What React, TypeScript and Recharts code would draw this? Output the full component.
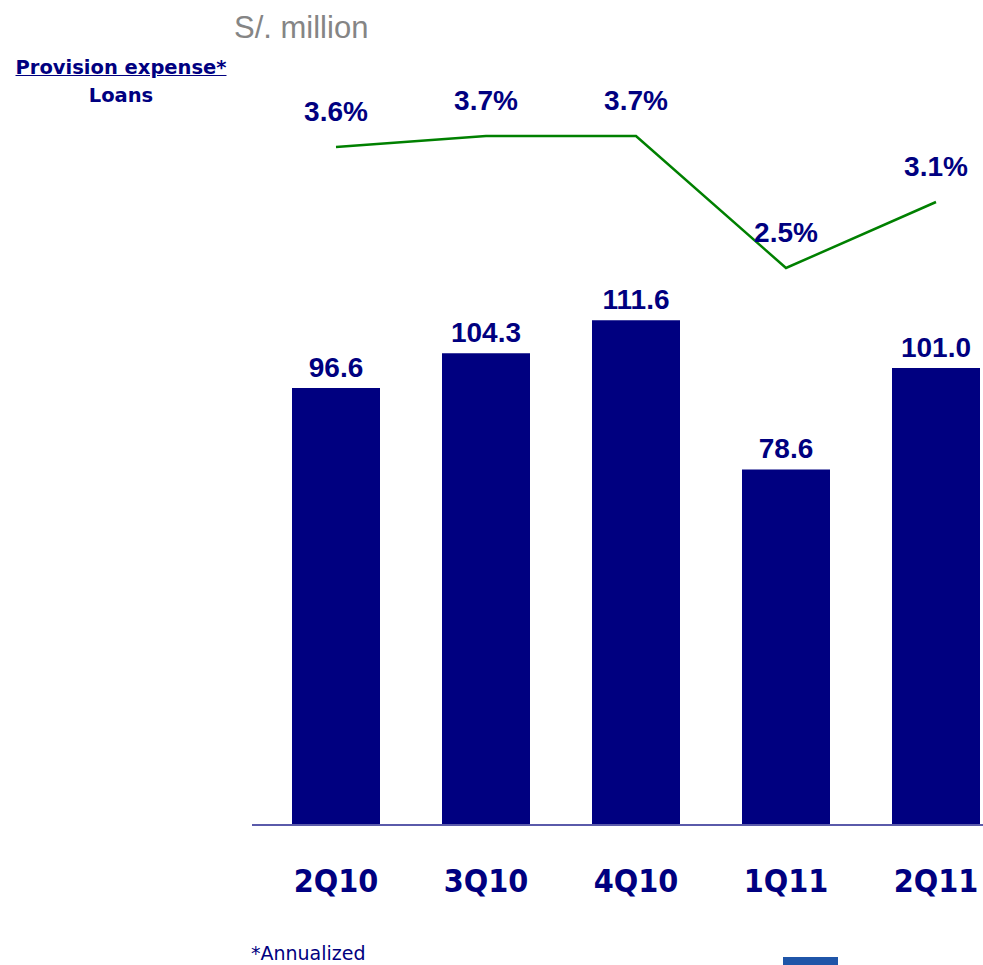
import React from 'react';
import { ComposedChart, Bar, Line, XAxis, YAxis, LabelList } from 'recharts';

const quarters = ['2Q10', '3Q10', '4Q10', '1Q11', '2Q11'];
const provisionExpense = [96.6, 104.3, 111.6, 78.6, 101.0];
const provisionToLoans = [3.6, 3.7, 3.7, 2.5, 3.1];

const NAVY = '#000080';

const chartData = quarters.map((q, i) => ({
  quarter: q,
  expense: provisionExpense[i],
  ratio: provisionToLoans[i],
}));

const labelStyle = { fill: NAVY, fontSize: 28, fontWeight: 'bold', fontFamily: 'Liberation Sans, Arial, sans-serif' };

export default function App() {
  return (
    <div style={{ position: 'absolute', left: 0, top: 0, width: 983, height: 965, overflow: 'hidden', background: '#fff' }}>
      <div style={{ position: 'absolute', left: 234, top: 10, fontFamily: 'Liberation Sans, Arial, sans-serif', fontSize: 31, color: '#858585' }}>
        S/. million
      </div>
      <div style={{ position: 'absolute', left: 10, top: 54, width: 222, textAlign: 'center', fontFamily: '"DejaVu Sans", sans-serif', fontWeight: 'bold', fontSize: 19.5, color: NAVY, lineHeight: '28px' }}>
        <div style={{ textDecoration: 'underline' }}>Provision expense*</div>
        <div>Loans</div>
      </div>

      {/* Barras + línea con dos ejes ocultos */}
      <ComposedChart
        width={1020}
        height={965}
        data={chartData}
        margin={{ top: 56, right: 9, left: 252, bottom: 0 }}
      >
        <XAxis
          dataKey="quarter"
          height={140}
          padding={{ left: 9, right: 0 }}
          axisLine={{ stroke: '#5a5aaa', strokeWidth: 2 }}
          tickLine={false}
          tick={{ fill: NAVY, fontSize: 32, fontWeight: 'bold', fontFamily: '"DejaVu Sans Condensed", "DejaVu Sans", sans-serif' }}
          tickMargin={38}
          interval={0}
        />
        <YAxis yAxisId="bar" hide width={0} domain={[0, 170]} />
        <YAxis yAxisId="pct" hide width={0} orientation="right" domain={[-2.5636, 4.4273]} />
        <Bar yAxisId="bar" dataKey="expense" fill={NAVY} barSize={88} isAnimationActive={false}>
          <LabelList
            dataKey="expense"
            position="top"
            offset={11}
            formatter={(v: number) => v.toFixed(1)}
            style={labelStyle}
          />
        </Bar>
        <Line
          yAxisId="pct"
          dataKey="ratio"
          stroke="#008000"
          strokeWidth={2.5}
          dot={false}
          activeDot={false}
          type="linear"
          isAnimationActive={false}
        >
          <LabelList
            dataKey="ratio"
            position="top"
            offset={26}
            formatter={(v: number) => `${v.toFixed(1)}%`}
            style={labelStyle}
          />
        </Line>
      </ComposedChart>

      <div style={{ position: 'absolute', left: 251, top: 942, fontFamily: '"DejaVu Sans", sans-serif', fontSize: 19, color: NAVY }}>
        *Annualized
      </div>
      <div style={{ position: 'absolute', left: 783, top: 957, width: 55, height: 8, background: '#1f55a8' }} />
    </div>
  );
}
